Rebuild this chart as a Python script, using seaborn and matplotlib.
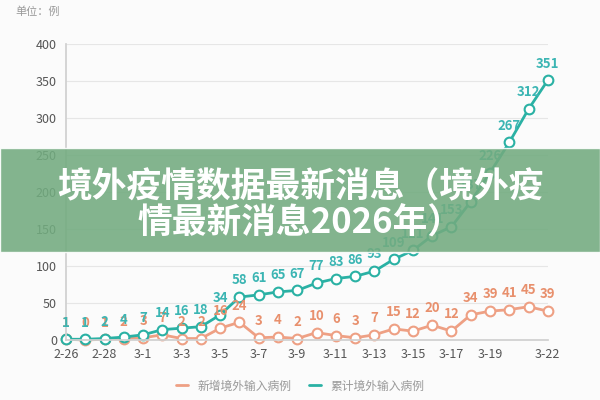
import pandas as pd
import seaborn as sns
from matplotlib import pyplot as plt
from matplotlib.patches import Rectangle
from matplotlib.lines import Line2D

# dane: 2-26 .. 3-22 (26 dni)
dates = ['2-26', '2-27', '2-28', '2-29', '3-1', '3-2', '3-3', '3-4', '3-5', '3-6',
         '3-7', '3-8', '3-9', '3-10', '3-11', '3-12', '3-13', '3-14', '3-15', '3-16',
         '3-17', '3-18', '3-19', '3-20', '3-21', '3-22']
new_cases = [1, 0, 1, 2, 3, 7, 2, 2, 16, 24, 3, 4, 2, 10, 6, 3, 7, 15, 12, 20,
             12, 34, 39, 41, 45, 39]
total_cases = [1, 1, 2, 4, 7, 14, 16, 18, 34, 58, 61, 65, 67, 77, 83, 86, 93, 109, 121, 141,
               153, 187, 226, 267, 312, 351]
tick_labels = ['2-26', '2-28', '3-1', '3-3', '3-5', '3-7', '3-9', '3-11', '3-13',
               '3-15', '3-17', '3-19', '3-22']
series_names = ['新增境外输入病例', '累计境外输入病例']

sns.set_theme(style='white')
plt.rcParams['font.family'] = ['Noto Sans CJK SC', 'DejaVu Sans']

red = '#eea084'
red_txt = '#e8906d'
teal = '#2ab1a4'
teal_txt = '#3bb5b3'

df = pd.DataFrame({
    'idx': list(range(len(dates))) * 2,
    'value': new_cases + total_cases,
    'series': [series_names[0]] * len(dates) + [series_names[1]] * len(dates),
})

fig = plt.figure(figsize=(6, 4), dpi=100)
fig.patch.set_facecolor('#fbfbfb')
ax = fig.add_axes([0.11, 0.15, 0.803, 0.74])
ax.set_facecolor('#fbfbfb')

sns.lineplot(data=df, x='idx', y='value', hue='series', palette=[red, teal],
             marker='o', markersize=7, markerfacecolor='white', markeredgewidth=1.5,
             linewidth=2, legend=False, ax=ax)
for line, col in zip(ax.lines, [red, teal]):
    line.set_markeredgecolor(col)
    line.set_clip_on(False)

for i, v in enumerate(new_cases):
    ax.annotate(str(v), (i, v), xytext=(0, 7), textcoords='offset points',
                ha='center', va='bottom', fontsize=9.5, color=red_txt, fontweight='bold')
for i, v in enumerate(total_cases):
    ax.annotate(str(v), (i, v), xytext=(0, 7), textcoords='offset points',
                ha='center', va='bottom', fontsize=9.5, color=teal_txt, fontweight='bold')

ax.set_xlim(0, 25)
ax.set_ylim(0, 400)
ax.set_yticks(range(0, 401, 50))
tick_pos = [dates.index(t) for t in tick_labels]
ax.set_xticks(tick_pos)
ax.set_xticklabels(tick_labels)
ax.tick_params(axis='both', labelsize=9, colors='#555555', length=3)
ax.tick_params(axis='x', length=0, pad=6)
ax.yaxis.grid(True, color='#e6e6e6', linewidth=0.8)
ax.set_xlabel('')
ax.set_ylabel('')
for s in ['top', 'right']:
    ax.spines[s].set_visible(False)
ax.spines['left'].set_color('#d0d0d0')
ax.spines['bottom'].set_color('#d0d0d0')

fig.text(0.025, 0.985, '单位：例', fontsize=8, color='#999999', va='top')

handles = [Line2D([0], [0], color=red, lw=2), Line2D([0], [0], color=teal, lw=2)]
fig.legend(handles, series_names, loc='center', bbox_to_anchor=(0.5, 0.035), ncol=2,
           frameon=False, fontsize=8.5, labelcolor='#999999', handlelength=1.0,
           columnspacing=1.5)

# zielony baner z tytulem
fig.patches.append(Rectangle((0, 0.37), 1, 0.26, transform=fig.transFigure,
                             facecolor='#72ab7f', alpha=0.88, zorder=10))
fig.text(0.5, 0.532, '境外疫情数据最新消息（境外疫', ha='center', va='center',
         fontsize=25, color='white', fontweight='black', zorder=11)
fig.text(0.5, 0.443, '情最新消息2026年）', ha='center', va='center',
         fontsize=25, color='white', fontweight='black', zorder=11)

fig.savefig('out.png', dpi=100, facecolor=fig.get_facecolor())
